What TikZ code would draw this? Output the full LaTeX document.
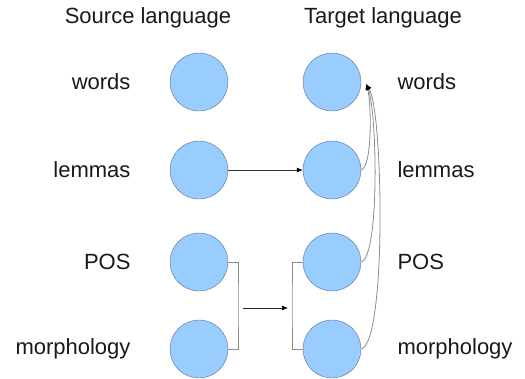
\documentclass[tikz,border=0pt]{standalone}
\usepackage{fontspec}
\setmainfont{Liberation Sans}
\usetikzlibrary{arrows.meta}
\definecolor{ballfill}{RGB}{153,204,255}
\definecolor{ballline}{RGB}{90,110,140}
\definecolor{wire}{RGB}{140,140,140}
\tikzset{
  ball/.style={circle,draw=ballline,fill=ballfill,minimum size=58pt,inner sep=0pt},
  lbl/.style={font=\fontsize{22}{26}\selectfont,text=black!90},
  wire/.style={draw=wire,line width=0.8pt},
  tip/.style={-{Latex[length=6pt,width=5pt,color=black]}}
}
\begin{document}
\begin{tikzpicture}[x=1pt,y=-1pt]
    \useasboundingbox (0,0) rectangle (525,378);
    \node[lbl] (hsrc) at (148,18) {Source language};
    \node[lbl] (htgt) at (383,18) {Target language};
    \foreach \i/\y/\t in {1/82/words,2/170/lemmas,3/262/POS,4/349/morphology} {
        \node[ball] (s\i) at (199,\y) {};
        \node[ball] (t\i) at (332,\y) {};
        \node[lbl,anchor=east] (ls\i) at (134,\y) {\t};
        \node[lbl,anchor=west] (lt\i) at (394,\y) {\t};
    }
    % lemmas go straight across
    \draw[tip,black!80,line width=0.7pt] (s2) -- (t2);
    % POS and morphology are taken together
    \coordinate (sb) at (238,305);
    \coordinate (tb) at (292,305);
    \coordinate (ma) at (243,308);
    \coordinate (mb) at (288,308);
    \draw[wire] (s3.east) -| (sb) |- (s4.east);
    \draw[wire] (t3.west) -| (tb) |- (t4.west);
    \draw[tip,black!85,line width=0.7pt] (ma) -- (mb);
    % everything ends up in the target words
    \coordinate (w) at (366,84);
    \draw[wire,tip] (t2.east) .. controls (373,166) and (371,100) .. (w);
    \draw[wire,tip] (t3.east) .. controls (380,256) and (377,110) .. (w);
    \draw[wire,tip] (t4.east) .. controls (387,342) and (383,110) .. (w);
\end{tikzpicture}
\end{document}
